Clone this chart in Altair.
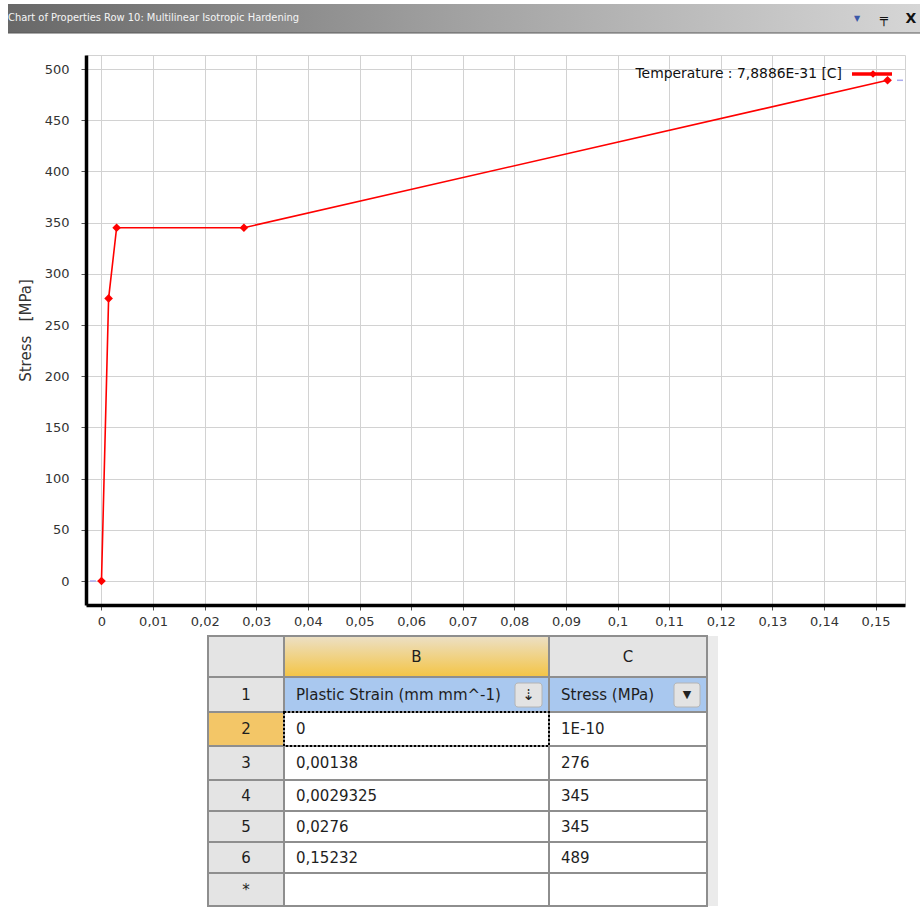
import altair as alt
import pandas as pd

# ---- hardening curve: plastic strain (mm/mm) vs stress (MPa) ----
plastic_strain = [0, 0.00138, 0.0029325, 0.0276, 0.15232]
stress_mpa = [1e-10, 276, 345, 345, 489]

x_tick_values = [0, 0.01, 0.02, 0.03, 0.04, 0.05, 0.06, 0.07,
                 0.08, 0.09, 0.10, 0.11, 0.12, 0.13, 0.14, 0.15]
y_tick_values = [0, 50, 100, 150, 200, 250, 300, 350, 400, 450, 500]

window_title = "Chart of Properties Row 10: Multilinear Isotropic Hardening"
legend_label = "Temperature : 7,8886E-31 [C]"
y_axis_title = "Stress\u00a0\u00a0\u00a0[MPa]"

column_letters = ["B", "C"]
column_headers = ["Plastic Strain (mm mm^-1)", "Stress (MPa)"]
row_numbers = ["1", "2", "3", "4", "5", "6", "*"]

# ---- layout ----
PLOT_W, PLOT_H = 819, 550
FONT = "DejaVu Sans"
NARROW = "'DejaVu Sans Condensed', 'Liberation Sans Narrow', 'Liberation Sans', sans-serif"
RED = "#ff0000"
GRID = "#d2d2d2"

# ---------------- curve panel ----------------
curve = pd.DataFrame({"strain": plastic_strain, "stress": stress_mpa})

x_scale = alt.Scale(domain=[-0.003, 0.1557], nice=False, zero=False)
y_scale = alt.Scale(domain=[-23.4, 513.7], nice=False, zero=False)

x_axis = alt.Axis(
    values=x_tick_values,
    labelExpr="replace(format(datum.value, '.2~f'), '.', ',')",
    title=None, grid=True, gridColor=GRID, gridWidth=1,
    domainColor="#000000", domainWidth=3.5,
    tickColor="#555555", tickSize=5, tickWidth=1,
    labelPadding=5, labelFont=FONT, labelFontSize=13, labelColor="#333333",
)
y_axis = alt.Axis(
    values=y_tick_values, format="d",
    title=y_axis_title, titleFont=FONT, titleFontSize=15,
    titleFontWeight="normal", titleColor="#333333", titlePadding=11,
    grid=True, gridColor=GRID, gridWidth=1,
    domainColor="#000000", domainWidth=3.5,
    tickColor="#555555", tickSize=5, tickWidth=1,
    labelPadding=12, labelFont=FONT, labelFontSize=13, labelColor="#333333",
)

line = alt.Chart(curve).mark_line(color=RED, strokeWidth=1.6).encode(
    x=alt.X("strain:Q", scale=x_scale, axis=x_axis),
    y=alt.Y("stress:Q", scale=y_scale, axis=y_axis),
)
points = alt.Chart(curve).mark_point(
    shape="diamond", filled=True, size=75, color=RED, opacity=1
).encode(x="strain:Q", y="stress:Q")

# small range markers at the lowest / highest stress
lo_mark = alt.Chart(pd.DataFrame({"stress": [min(stress_mpa)]})).mark_rule(
    color="#aaaaee", strokeWidth=1.5
).encode(y="stress:Q", x=alt.value(4), x2=alt.value(10))
hi_mark = alt.Chart(pd.DataFrame({"stress": [max(stress_mpa)]})).mark_rule(
    color="#aaaaee", strokeWidth=1.5
).encode(y="stress:Q", x=alt.value(811), x2=alt.value(817))

curve_panel = alt.layer(line, points, lo_mark, hi_mark)

# ---------------- data grid below the chart ----------------
col_edges = [0, 76, 341, 499]
row_edges = [0, 41, 76, 110, 144, 175, 206, 237, 270]

strain_text = [f"{v:G}".replace(".", ",") for v in plastic_strain]
stress_text = [f"{v:G}".replace(".", ",") for v in stress_mpa]

grid_rows = [["", column_letters[0], column_letters[1]],
             [row_numbers[0], column_headers[0], column_headers[1]]]
for i in range(len(plastic_strain)):
    grid_rows.append([row_numbers[i + 1], strain_text[i], stress_text[i]])
grid_rows.append([row_numbers[-1], "", ""])


def cell_fill(r, c):
    if r == 0:
        return "#e4e4e4"
    if c == 0:
        return "#f3c667" if r == 2 else "#e4e4e4"
    if r == 1:
        return "#a9c8ef"
    return "#ffffff"


records = []
for r, row in enumerate(grid_rows):
    for c, txt in enumerate(row):
        x0, x1 = col_edges[c], col_edges[c + 1]
        y0, y1 = row_edges[r], row_edges[r + 1]
        centered = (r == 0 or c == 0)
        records.append({
            "r": r, "c": c, "x0": x0, "x1": x1, "y0": y0, "y1": y1,
            "xt": (x0 + x1) / 2 if centered else x0 + 12,
            "yc": (y0 + y1) / 2, "text": txt, "fill": cell_fill(r, c),
            "centered": centered,
        })
cells = pd.DataFrame(records)

tx = alt.Scale(domain=[0, 499], range=[122, 621], nice=False, zero=False)
ty = alt.Scale(domain=[0, 270], range=[581, 851], nice=False, zero=False)


def tbl_x(field):
    return alt.X(field, type="quantitative", scale=tx, axis=None)


def tbl_y(field):
    return alt.Y(field, type="quantitative", scale=ty, axis=None)


cell_rects = alt.Chart(cells).mark_rect(stroke="#8e8e8e", strokeWidth=2).encode(
    x=tbl_x("x0"), x2="x1", y=tbl_y("y0"), y2="y1",
    fill=alt.Fill("fill:N", scale=None),
)

b_header = alt.Chart(cells[(cells.r == 0) & (cells.c == 1)]).mark_rect(
    fill=alt.Gradient(
        gradient="linear", x1=0, x2=0, y1=0, y2=1,
        stops=[alt.GradientStop(color="#ece0c6", offset=0),
               alt.GradientStop(color="#f4c444", offset=1)],
    ),
    stroke="#8e8e8e", strokeWidth=2,
).encode(x=tbl_x("x0"), x2="x1", y=tbl_y("y0"), y2="y1")

selection = alt.Chart(cells[(cells.r == 2) & (cells.c == 1)]).mark_rect(
    filled=False, color="#000000", strokeDash=[2, 2], strokeWidth=2
).encode(x=tbl_x("x0"), x2="x1", y=tbl_y("y0"), y2="y1")

center_text = alt.Chart(cells[cells.centered]).mark_text(
    align="center", baseline="middle", font=FONT, fontSize=15, color="#1e1e1e"
).encode(x=tbl_x("xt"), y=tbl_y("yc"), text="text:N")

left_text = alt.Chart(cells[~cells.centered]).mark_text(
    align="left", baseline="middle", font=FONT, fontSize=15, color="#1e1e1e"
).encode(x=tbl_x("xt"), y=tbl_y("yc"), text="text:N")

# header buttons (sort / filter)
buttons = pd.DataFrame({
    "x0": [307, 466], "x1": [334, 492], "y0": [47, 47], "y1": [71, 71],
    "xm": [320.5, 479], "ym": [59, 59], "glyph": ["\u21e3", "\u25bc"],
    "gsize": [15, 11],
})
button_rects = alt.Chart(buttons).mark_rect(
    fill="#e3e3e3", stroke="#b4b4b4", strokeWidth=1, cornerRadius=3
).encode(x=tbl_x("x0"), x2="x1", y=tbl_y("y0"), y2="y1")
button_glyphs = alt.Chart(buttons).mark_text(
    align="center", baseline="middle", font=FONT, color="#222222"
).encode(x=tbl_x("xm"), y=tbl_y("ym"), text="glyph:N",
         size=alt.Size("gsize:Q", scale=None))

frame = pd.DataFrame({"x0": [0, 499], "x1": [3, 510], "y0": [0, 0], "y1": [270, 270],
                      "fill": ["#6e6e6e", "#ebebeb"]})
frame_rects = alt.Chart(frame).mark_rect().encode(
    x=tbl_x("x0"), x2="x1", y=tbl_y("y0"), y2="y1",
    fill=alt.Fill("fill:N", scale=None),
)

table_panel = alt.layer(frame_rects, cell_rects, b_header, selection,
                        button_rects, button_glyphs, center_text, left_text)

# ---------------- window caption bar ----------------
caption = pd.DataFrame({"t": [window_title]})
caption_bar = alt.Chart(caption).mark_rect(
    fill=alt.Gradient(
        gradient="linear", x1=0, x2=1, y1=0, y2=0,
        stops=[alt.GradientStop(color="#686868", offset=0),
               alt.GradientStop(color="#a2a2a2", offset=0.5),
               alt.GradientStop(color="#d6d6d6", offset=1)],
    )
).encode(x=alt.value(-78), x2=alt.value(834), y=alt.value(-51), y2=alt.value(-22))
caption_edge = alt.Chart(caption).mark_rule(color="#595959", strokeWidth=1).encode(
    x=alt.value(-78), x2=alt.value(834), y=alt.value(-22)
)
caption_text = alt.Chart(caption).mark_text(
    align="left", baseline="middle", font=NARROW,
    fontSize=11, color="#f5f5f5"
).encode(x=alt.value(-78), y=alt.value(-37), text="t:N")

icons = pd.DataFrame({"g": ["\u25bc", "\u2564", "X"],
                      "col": ["#3b58a8", "#111111", "#111111"],
                      "size": [8, 13, 14]})
icon_marks = [
    alt.Chart(icons.iloc[[i]]).mark_text(
        align="center", baseline="middle", font=FONT, fontWeight="bold",
        fontSize=int(icons["size"][i]), color=icons["col"][i]
    ).encode(x=alt.value(xv), y=alt.value(-36), text="g:N")
    for i, xv in enumerate([771, 798, 825])
]

# ---------------- series legend ----------------
legend = pd.DataFrame({"t": [legend_label]})
legend_text = alt.Chart(legend).mark_text(
    align="right", baseline="middle", font=FONT, fontSize=13.9, color="#111111"
).encode(x=alt.value(756), y=alt.value(19), text="t:N")
legend_line = alt.Chart(legend).mark_rule(color=RED, strokeWidth=3.5).encode(
    x=alt.value(766), x2=alt.value(806), y=alt.value(19)
)
legend_dot = alt.Chart(legend).mark_point(
    shape="diamond", filled=True, size=60, color=RED, opacity=1
).encode(x=alt.value(787), y=alt.value(19))

chart = alt.layer(
    caption_bar, caption_edge, caption_text, *icon_marks,
    curve_panel, table_panel,
    legend_text, legend_line, legend_dot,
).resolve_scale(x="independent", y="independent").properties(
    width=PLOT_W, height=PLOT_H,
    padding={"left": 86, "top": 55, "right": 15, "bottom": 303},
    autosize=alt.AutoSizeParams(type="none"),
    background="#ffffff",
).configure_view(stroke=GRID, strokeWidth=1)

chart.save("out.html", embed_options={"renderer": "svg", "actions": False})
